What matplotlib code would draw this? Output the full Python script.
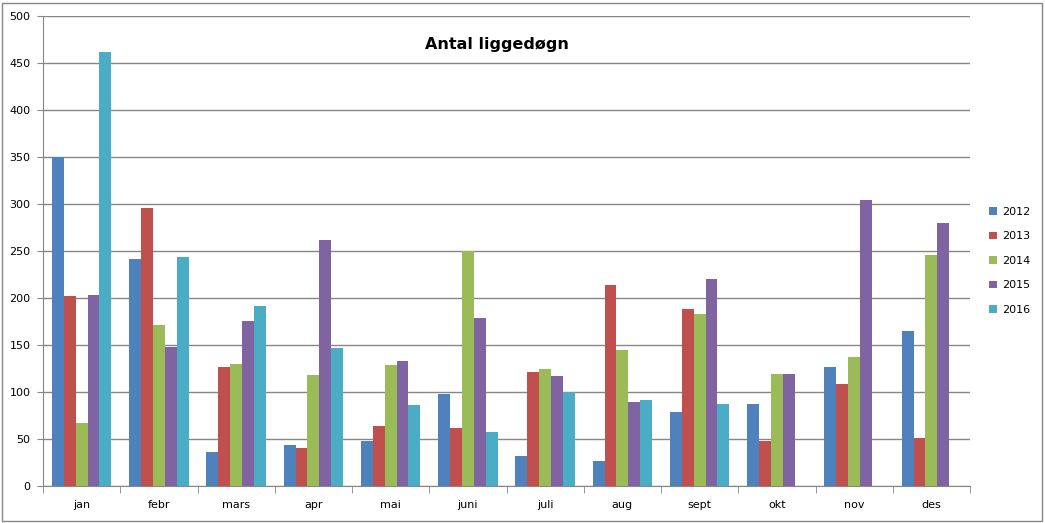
import matplotlib.pyplot as plt
import numpy as np
from matplotlib.patches import Rectangle

months = ['jan', 'febr', 'mars', 'apr', 'mai', 'juni', 'juli', 'aug', 'sept', 'okt', 'nov', 'des']
years = ['2012', '2013', '2014', '2015', '2016']

v2012 = [350, 242, 36, 44, 48, 98, 32, 27, 79, 87, 127, 165]
v2013 = [202, 296, 127, 40, 64, 62, 121, 214, 188, 48, 108, 51]
v2014 = [67, 171, 130, 118, 129, 250, 125, 145, 183, 119, 137, 246]
v2015 = [203, 148, 176, 262, 133, 179, 117, 89, 220, 119, 304, 280]
v2016 = [462, 244, 192, 147, 86, 57, 100, 91, 87, np.nan, np.nan, np.nan]

colors = ['#4F81BD', '#C0504D', '#9BBB59', '#8064A2', '#4BACC6']
series = [v2012, v2013, v2014, v2015, v2016]

plt.rcParams['font.family'] = ['DejaVu Sans']

fig = plt.figure(figsize=(10.45, 5.23), dpi=100)
ax = fig.add_axes([43 / 1045, 1 - 486 / 523, (970 - 43) / 1045, (486 - 16) / 523])

x = np.arange(len(months))
w = 1 / 6.5
for i, (vals, c) in enumerate(zip(series, colors)):
    ax.bar(x + (i - 2) * w, vals, width=w, color=c, label=years[i], zorder=3)

ax.set_xlim(-0.5, len(months) - 0.5)
ax.set_ylim(0, 500)
ax.set_yticks(np.arange(0, 501, 50))
ax.yaxis.grid(True, color='#868686', linewidth=1, zorder=0)
ax.set_xticks(x)
ax.set_xticklabels(months, fontsize=8)
ax.set_xticks(np.arange(-0.5, len(months)), minor=True)
ax.tick_params(axis='x', which='major', length=0, pad=10)
ax.tick_params(axis='x', which='minor', length=5, color='#868686', direction='out')
ax.tick_params(axis='y', length=4, color='#868686', labelsize=8, pad=5)
for s in ['top', 'right']:
    ax.spines[s].set_visible(False)
for s in ['left', 'bottom']:
    ax.spines[s].set_color('#868686')

fig.text(497 / 1045, 1 - 44 / 523, 'Antal liggedøgn', ha='center', va='center',
         fontsize=11.5, fontweight='bold')

ax.legend(loc='center left', bbox_to_anchor=(1.01, 0.479), frameon=False,
          fontsize=8, handlelength=0.7, handleheight=0.7, handletextpad=0.5,
          labelspacing=1.3)

fig.patches.append(Rectangle((2 / 1045, 2 / 523), 1040 / 1045, 518 / 523,
                             transform=fig.transFigure, fill=False,
                             edgecolor='#868686', linewidth=1))

fig.savefig('out.png', dpi=100)
